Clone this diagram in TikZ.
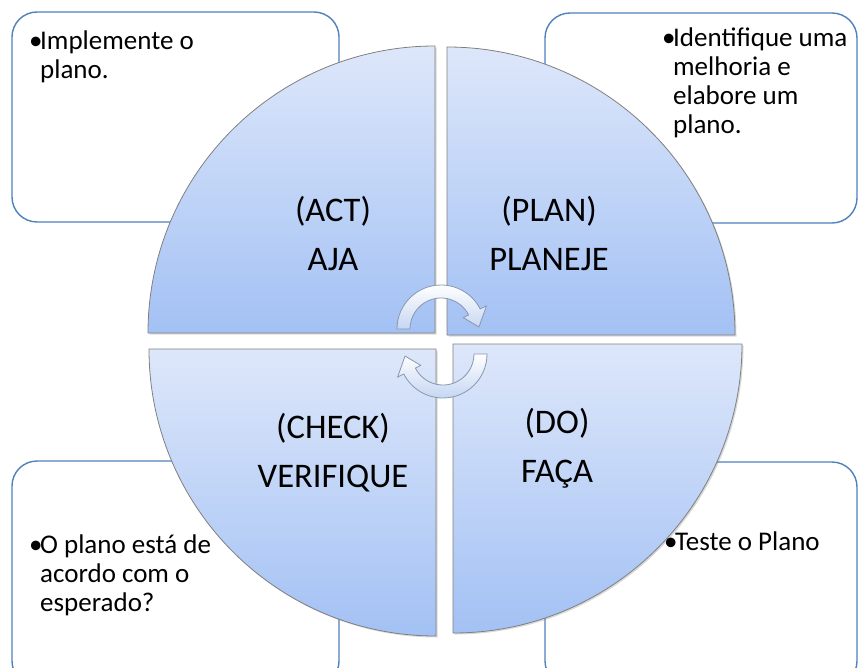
\documentclass[tikz,border=0pt]{standalone}
\usepackage{fontspec}
\setmainfont{Carlito}
\usepackage{tikz}
\usetikzlibrary{shadows}
\definecolor{boxblue}{HTML}{4F81BD}
\definecolor{quadtop}{HTML}{DDE7FA}
\definecolor{quadbot}{HTML}{A3C1F4}
\definecolor{quadline}{HTML}{808080}
\definecolor{arrowbot}{HTML}{C6D6F2}
\definecolor{arrowline}{HTML}{8797B0}
\newcommand{\pdcabullet}{\textbullet\kern-2.5pt}

\begin{document}
\begin{tikzpicture}[x=1pt,y=-1pt,
        notebox/.style={draw=boxblue,line width=1.4pt,fill=white,rounded corners=25pt},
        quadrant/.style={top color=quadtop,bottom color=quadbot,draw=quadline,line width=0.8pt,
            drop shadow={opacity=0.3,shadow xshift=1.5pt,shadow yshift=-1.5pt}},
        cyclearrow/.style={top color=white,bottom color=arrowbot,draw=arrowline,line width=0.8pt,line join=round}]
        \useasboundingbox (0,0) rectangle (858,668);
        \clip (0,0) rectangle (858,668);
        \path[notebox] (12,12) rectangle (339,222);
        \path[notebox] (545,13) rectangle (857,223);
        \path[notebox] (12,461) rectangle (339,686);
        \path[notebox] (545,462) rectangle (857,686);

        \path[quadrant] (435,333) -- (148,333) arc[start angle=180,end angle=270,radius=287] -- cycle;
        \path[quadrant] (447,335) -- (447,47) arc[start angle=270,end angle=360,radius=288] -- cycle;
        \path[quadrant] (453,344) -- (742,344) arc[start angle=0,end angle=90,radius=289] -- cycle;
        \path[quadrant] (436,349) -- (436,636) arc[start angle=90,end angle=180,radius=287] -- cycle;

        \coordinate (c1) at (441,329);
        \coordinate (c2) at (443,354);
        \path[cyclearrow] ([shift={(180:44)}]c1) arc[start angle=180,end angle=333,radius=44]
            -- ([shift={(333:51)}]c1) -- ([shift={(357:38)}]c1) -- ([shift={(333:25)}]c1)
            -- ([shift={(333:31)}]c1) arc[start angle=333,end angle=180,radius=31] -- cycle;
        \path[cyclearrow] ([shift={(0:44)}]c2) arc[start angle=0,end angle=153,radius=44]
            -- ([shift={(153:51)}]c2) -- ([shift={(177:38)}]c2) -- ([shift={(153:25)}]c2)
            -- ([shift={(153:31)}]c2) arc[start angle=153,end angle=0,radius=31] -- cycle;

        \begin{scope}[every node/.style={font=\fontsize{34.5}{34.5}\selectfont,anchor=base,inner sep=0pt}]
            \node (act) at (333,222) {(ACT)};
            \node (aja) at (333,270) {AJA};
            \node (plan) at (549,222) {(PLAN)};
            \node (planeje) at (549,270) {PLANEJE};
            \node (do) at (557,433) {(DO)};
            \node (faca) at (557,482) {FAÇA};
            \node (check) at (333,438) {(CHECK)};
            \node (verifique) at (333,487) {VERIFIQUE};
        \end{scope}
        \begin{scope}[every node/.style={font=\fontsize{27}{29}\selectfont,anchor=base west,inner sep=0pt,align=left}]
            \node (agir) at (29,50) {\pdcabullet\begin{tabular}[t]{@{}l@{}}Implemente o\\plano.\end{tabular}};
            \node (planejar) at (662,47) {\pdcabullet\begin{tabular}[t]{@{}l@{}}Identifique uma\\melhoria e\\elabore um\\plano.\end{tabular}};
            \node (verificar) at (29,553) {\pdcabullet\begin{tabular}[t]{@{}l@{}}O plano está de\\acordo com o\\esperado?\end{tabular}};
            \node (fazer) at (664,550) {\pdcabullet Teste o Plano};
        \end{scope}
    \end{tikzpicture}
\end{document}
